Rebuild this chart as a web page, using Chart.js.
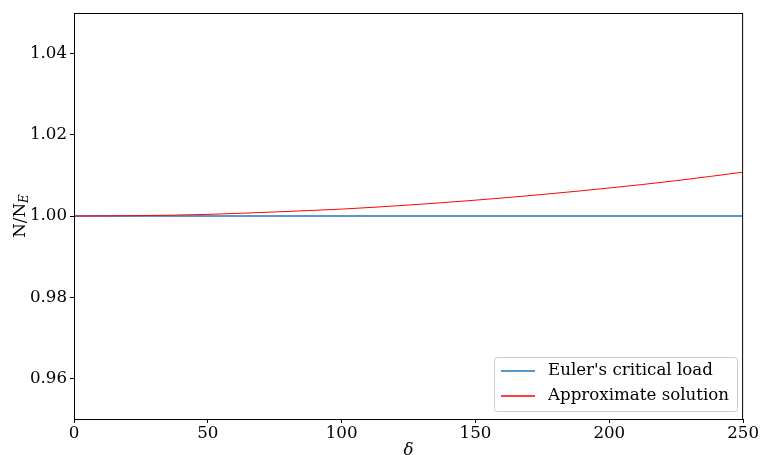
<!DOCTYPE html>
<html><head><meta charset="utf-8">
<script src="https://cdn.jsdelivr.net/npm/chart.js@4/dist/chart.umd.min.js"></script>
<style>html,body{margin:0;padding:0;background:#fff}#wrap{width:760px;height:455px;position:relative}</style>
</head><body><div id="wrap"><canvas id="c" width="760" height="455"></canvas></div>
<script>
const delta = [0, 25, 50, 75, 100, 125, 150, 175, 200, 225, 250];
const eulerLoad = [1.0, 1.0, 1.0, 1.0, 1.0, 1.0, 1.0, 1.0, 1.0, 1.0, 1.0];
const approxSolution = [1.0000, 1.0001, 1.0004, 1.0010, 1.0017, 1.0027, 1.0039, 1.0053, 1.0069, 1.0087, 1.0108];
const xTicks = [0, 50, 100, 150, 200, 250];
const yTicks = [0.96, 0.98, 1.00, 1.02, 1.04];
const seriesNames = ["Euler's critical load", "Approximate solution"];
const xLabel = "δ";
const yLabelMain = "N/N";
const yLabelSub = "E";

const FONT = "'DejaVu Serif', serif";
const FS = 16.67;
const BLUE = 'rgb(31,119,180)', RED = 'rgb(255,0,0)';
const seriesColors = [BLUE, RED];

const toPts = (xs, ys) => xs.map((x, i) => ({x, y: ys[i]}));

const extras = {
  id: 'extras',
  afterDraw(chart) {
    const {ctx, chartArea: a} = chart;
    ctx.save();
    ctx.strokeStyle = '#000'; ctx.lineWidth = 1;
    ctx.strokeRect(a.left + 0.5, a.top + 0.5, a.right - a.left - 1, a.bottom - a.top);
    const lx = 494, ly = 357, lw = 243, lh = 54;
    ctx.fillStyle = 'rgba(255,255,255,0.8)';
    ctx.strokeStyle = '#cccccc';
    ctx.lineWidth = 1;
    ctx.beginPath();
    if (ctx.roundRect) ctx.roundRect(lx + 0.5, ly + 0.5, lw, lh, 3); else ctx.rect(lx + 0.5, ly + 0.5, lw, lh);
    ctx.fill(); ctx.stroke();
    ctx.restore();
    ctx.save();
    ctx.font = FS + "px " + FONT;
    ctx.textBaseline = 'middle';
    ctx.textAlign = 'left';
    for (let i = 0; i < seriesNames.length; i++) {
      const yy = 370 + i * 25;
      ctx.fillStyle = seriesColors[i];
      ctx.fillRect(501, yy + 0.25, 34, 1.5);
      ctx.fillStyle = '#000';
      ctx.fillText(seriesNames[i], 548, yy + 1);
    }
    ctx.font = "italic " + FS + "px " + FONT;
    ctx.textAlign = 'center';
    ctx.fillText(xLabel, (a.left + a.right) / 2, 451);
    ctx.translate(21, (a.top + a.bottom) / 2);
    ctx.rotate(-Math.PI / 2);
    ctx.font = FS + "px " + FONT;
    const w1 = ctx.measureText(yLabelMain).width;
    ctx.font = "italic 12px " + FONT;
    const w2 = ctx.measureText(yLabelSub).width;
    const start = -(w1 + w2) / 2;
    ctx.textAlign = 'left';
    ctx.font = FS + "px " + FONT;
    ctx.fillText(yLabelMain, start, 0);
    ctx.font = "italic 12px " + FONT;
    ctx.fillText(yLabelSub, start + w1, 4);
    ctx.restore();
  }
};

new Chart(document.getElementById('c'), {
  type: 'line',
  data: {
    datasets: [
      {label: seriesNames[0], data: toPts(delta, eulerLoad), borderColor: BLUE, borderWidth: 1.3, pointRadius: 0, fill: false, order: 1},
      {label: seriesNames[1], data: toPts(delta, approxSolution), borderColor: RED, borderWidth: 1, pointRadius: 0, fill: false, cubicInterpolationMode: 'monotone', order: 0}
    ]
  },
  options: {
    responsive: false,
    animation: false,
    events: [],
    layout: {padding: {left: 0, right: 16, top: 13, bottom: 0}},
    plugins: {legend: {display: false}, tooltip: {enabled: false}},
    scales: {
      x: {
        type: 'linear', min: 0, max: 250,
        afterBuildTicks: s => { s.ticks = xTicks.map(v => ({value: v})); },
        afterFit: s => { s.height = 36; },
        grid: {drawOnChartArea: false, drawTicks: true, tickLength: 4, color: '#000'},
        border: {display: true, color: '#000', width: 1},
        ticks: {color: '#000', font: {family: FONT, size: FS}, padding: 1, maxRotation: 0, callback: v => String(v)}
      },
      y: {
        type: 'linear', min: 0.95, max: 1.05,
        afterBuildTicks: s => { s.ticks = yTicks.map(v => ({value: v})); },
        afterFit: s => { s.width = 74; },
        grid: {drawOnChartArea: false, drawTicks: true, tickLength: 4, color: '#000'},
        border: {display: true, color: '#000', width: 1},
        ticks: {color: '#000', font: {family: FONT, size: FS}, padding: 3, callback: v => Number(v).toFixed(2)}
      }
    }
  },
  plugins: [extras]
});
</script>
</body></html>
